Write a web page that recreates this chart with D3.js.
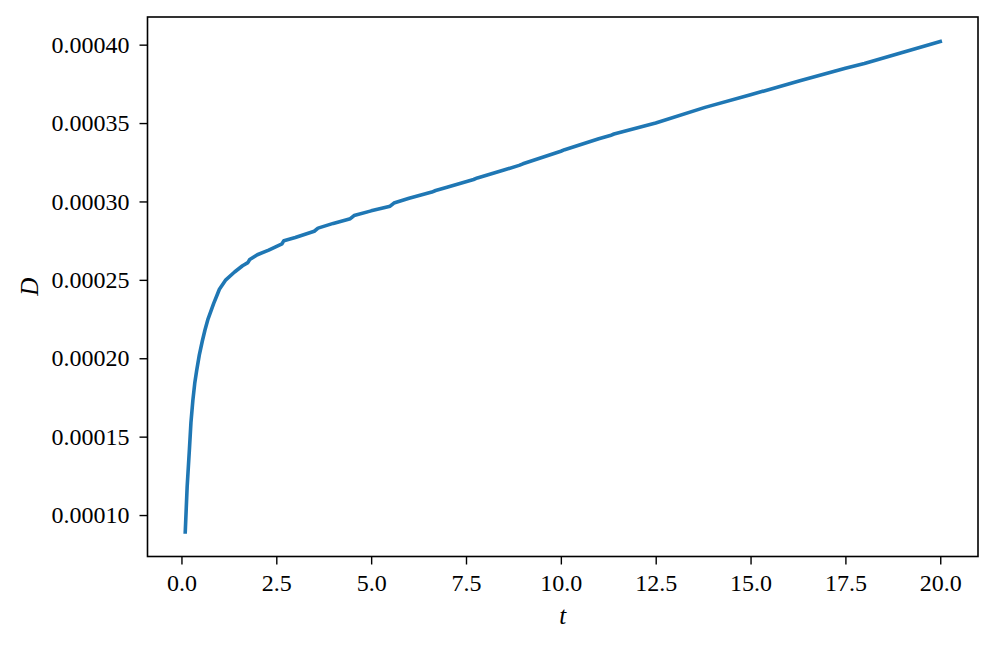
<!DOCTYPE html>
<html>
<head>
<meta charset="utf-8">
<script src="https://cdn.jsdelivr.net/npm/d3@7"></script>
<style>
  body { margin: 0; background: #fff; }
  text { font-family: "Liberation Serif", "DejaVu Serif", serif; fill: #000; }
</style>
</head>
<body>
<div id="chart"></div>
<script>
/** data **/
var tValues = [0.1, 0.15, 0.21, 0.25, 0.3, 0.35, 0.4, 0.47, 0.55, 0.62, 0.7, 0.85, 0.95, 1.0, 1.17, 1.4, 1.61, 1.75, 1.8, 2.0,
               2.3, 2.65, 2.7, 3.0, 3.5, 3.6, 4.0, 4.45, 4.55, 5.0, 5.5, 5.6, 6.0, 6.6, 6.7, 7.0, 7.7, 7.8, 8.5, 8.9,
               9.0, 10.0, 10.1, 11.0, 11.3, 11.4, 12.5, 13.8, 15.0, 16.3, 17.5, 18.0, 19.0, 20.0];
var dValues = [0.0000892, 0.000118, 0.000142, 0.000159, 0.000173, 0.000184, 0.000192, 0.000202, 0.000211, 0.000218,
               0.000225, 0.000235, 0.000241, 0.000244, 0.000250, 0.000255, 0.000259, 0.000261, 0.000263, 0.000266,
               0.000269, 0.000273, 0.000275, 0.000277, 0.000281, 0.000283, 0.000286, 0.000289, 0.000291, 0.000294,
               0.000297, 0.000299, 0.000302, 0.000306, 0.000307, 0.000309, 0.000314, 0.000315, 0.000320, 0.000323,
               0.000324, 0.000332, 0.000333, 0.000340, 0.000342, 0.000343, 0.000350, 0.000360, 0.000368, 0.000377,
               0.000385, 0.000388, 0.000395, 0.000402];
var xTicks = [0, 2.5, 5, 7.5, 10, 12.5, 15, 17.5, 20];
var yTicks = [0.0001, 0.00015, 0.0002, 0.00025, 0.0003, 0.00035, 0.0004];

var width = 996, height = 646;
var plotLeft = 147.5, plotRight = 978, plotTop = 17, plotBottom = 556.5;

var svg = d3.select("#chart").append("svg")
            .attr("width", width)
            .attr("height", height);

/** scales with matplotlib style 5% margins **/
var tExt = d3.extent(tValues), dExt = d3.extent(dValues);
var tPad = (tExt[1] - tExt[0]) * 0.05, dPad = (dExt[1] - dExt[0]) * 0.05;

var x = d3.scaleLinear()
          .domain([tExt[0] - tPad, tExt[1] + tPad])
          .range([plotLeft, plotRight]);
var y = d3.scaleLinear()
          .domain([dExt[0] - dPad, dExt[1] + dPad])
          .range([plotBottom, plotTop]);

var xAxis = svg.append("g")
               .attr("transform", "translate(0," + plotBottom + ")")
               .call(d3.axisBottom(x).tickValues(xTicks).tickSize(8).tickPadding(9)
                       .tickFormat(d3.format(".1f")));
var yAxis = svg.append("g")
               .attr("transform", "translate(" + plotLeft + ",0)")
               .call(d3.axisLeft(y).tickValues(yTicks).tickSize(8).tickPadding(10)
                       .tickFormat(d3.format(".5f")));

[xAxis, yAxis].forEach(function(a) {
  a.select(".domain").remove();
  a.selectAll(".tick line").attr("stroke", "#000").attr("stroke-width", 1.4);
  a.selectAll(".tick text").attr("font-size", 24).attr("font-family", "Liberation Serif, DejaVu Serif, serif");
});

/** the curve **/
var points = tValues.map(function(t, i) { return [t, dValues[i]]; });
svg.append("path")
   .datum(points)
   .attr("fill", "none")
   .attr("stroke", "#1f77b4")
   .attr("stroke-width", 3.6)
   .attr("stroke-linejoin", "round")
   .attr("stroke-linecap", "square")
   .attr("d", d3.line()
               .x(function(d) { return x(d[0]); })
               .y(function(d) { return y(d[1]); }));

/** axes box **/
svg.append("rect")
   .attr("x", plotLeft)
   .attr("y", plotTop)
   .attr("width", plotRight - plotLeft)
   .attr("height", plotBottom - plotTop)
   .attr("fill", "none")
   .attr("stroke", "#000")
   .attr("stroke-width", 1.6);

/** labels **/
svg.append("text")
   .text("t")
   .attr("x", (plotLeft + plotRight) / 2)
   .attr("y", 624)
   .attr("text-anchor", "middle")
   .attr("font-style", "italic")
   .attr("font-size", 25);

svg.append("text")
   .text("D")
   .attr("transform", "translate(38," + ((plotTop + plotBottom) / 2) + ") rotate(-90)")
   .attr("text-anchor", "middle")
   .attr("font-style", "italic")
   .attr("font-size", 25);
</script>
</body>
</html>
